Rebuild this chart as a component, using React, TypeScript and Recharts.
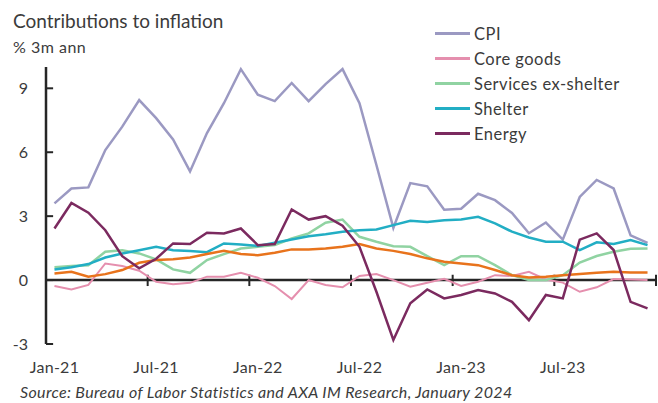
import { LineChart, Line, XAxis, YAxis, ReferenceLine, Legend } from 'recharts';

const months = [
  'Jan-21', 'Feb-21', 'Mar-21', 'Apr-21', 'May-21', 'Jun-21', 'Jul-21', 'Aug-21', 'Sep-21', 'Oct-21', 'Nov-21', 'Dec-21',
  'Jan-22', 'Feb-22', 'Mar-22', 'Apr-22', 'May-22', 'Jun-22', 'Jul-22', 'Aug-22', 'Sep-22', 'Oct-22', 'Nov-22', 'Dec-22',
  'Jan-23', 'Feb-23', 'Mar-23', 'Apr-23', 'May-23', 'Jun-23', 'Jul-23', 'Aug-23', 'Sep-23', 'Oct-23', 'Nov-23', 'Dec-23',
];

const cpi = [
  3.6, 4.3, 4.35, 6.1, 7.2, 8.45, 7.6, 6.6, 5.1, 6.9, 8.3, 9.9,
  8.7, 8.4, 9.25, 8.4, 9.2, 9.9, 8.3, 5.4, 2.45, 4.55, 4.4, 3.3,
  3.35, 4.05, 3.75, 3.15, 2.2, 2.7, 1.9, 3.9, 4.7, 4.3, 2.1, 1.75,
];
const coreGoods = [
  -0.28, -0.44, -0.23, 0.78, 0.66, 0.44, -0.08, -0.19, -0.13, 0.16, 0.16, 0.34,
  0.11, -0.28, -0.89, 0.0, -0.23, -0.34, 0.19, 0.28, 0.0, -0.31, -0.13, 0.06,
  -0.28, -0.08, 0.23, 0.19, 0.39, 0.03, -0.12, -0.55, -0.34, 0.05, 0.03, 0.0,
];
const servicesExShelter = [
  0.6, 0.66, 0.7, 1.33, 1.4, 1.25, 0.97, 0.5, 0.34, 0.94, 1.22, 1.48,
  1.56, 1.64, 1.95, 2.19, 2.69, 2.84, 2.03, 1.8, 1.59, 1.56, 1.12, 0.7,
  1.12, 1.12, 0.7, 0.23, 0.0, 0.0, 0.23, 0.82, 1.13, 1.33, 1.47, 1.48,
];
const shelter = [
  0.5, 0.6, 0.75, 1.06, 1.25, 1.4, 1.56, 1.4, 1.37, 1.31, 1.72, 1.67,
  1.6, 1.75, 1.9, 2.06, 2.15, 2.27, 2.34, 2.37, 2.58, 2.78, 2.73, 2.81,
  2.84, 2.97, 2.66, 2.27, 2.0, 1.8, 1.8, 1.41, 1.77, 1.69, 1.88, 1.64,
];
const energy = [
  2.42, 3.62, 3.16, 2.34, 1.12, 0.55, 1.0, 1.72, 1.69, 2.22, 2.19, 2.42,
  1.64, 1.69, 3.31, 2.84, 3.0, 2.55, 1.56, -0.55, -2.81, -1.09, -0.44, -0.86,
  -0.7, -0.47, -0.63, -1.02, -1.88, -0.7, -0.86, 1.9, 2.19, 1.41, -1.02, -1.33,
];
const other = [
  0.31, 0.39, 0.16, 0.28, 0.47, 0.81, 0.94, 0.98, 1.06, 1.22, 1.37, 1.22,
  1.17, 1.28, 1.44, 1.44, 1.48, 1.56, 1.69, 1.48, 1.37, 1.22, 1.02, 0.86,
  0.78, 0.7, 0.47, 0.23, 0.12, 0.16, 0.23, 0.28, 0.34, 0.39, 0.36, 0.36,
];

const legendNames = ['CPI', 'Core goods', 'Services ex-shelter', 'Shelter', 'Energy'];
const xTicks = [0, 6, 12, 18, 24, 30];
const yTicks = [-3, 0, 3, 6, 9];
const xTickMarks = [5.5, 11.5, 17.5, 23.5, 29.5, 35.5];

const data = months.map((m, i) => ({
  idx: i,
  month: m,
  cpi: cpi[i],
  coreGoods: coreGoods[i],
  services: servicesExShelter[i],
  shelter: shelter[i],
  energy: energy[i],
  other: other[i],
}));

const FONT = 'Lato, "Open Sans", sans-serif';
const TEXT = '#3b3b3b';
const AXIS = '#262626';

function LegendBox({ payload }: any) {
  const items = (payload || [])
    .filter((p: any) => legendNames.includes(p.value))
    .sort((a: any, b: any) => legendNames.indexOf(a.value) - legendNames.indexOf(b.value));
  return (
    <div style={{ fontFamily: FONT, fontSize: 16.5, letterSpacing: 0.5, color: TEXT }}>
      {items.map((p: any) => (
        <div key={p.value} style={{ display: 'flex', alignItems: 'center', height: 25 }}>
          <span style={{ display: 'inline-block', width: 35, height: 2.5, background: p.color, marginRight: 4 }} />
          <span>{p.value}</span>
        </div>
      ))}
    </div>
  );
}

export default function App() {
  return (
    <div style={{ position: 'absolute', left: 0, top: 0, width: 658, height: 403, background: '#fff', fontFamily: FONT }}>
      <div style={{ position: 'absolute', left: 13, top: 11, fontSize: 19, lineHeight: 1, color: TEXT, whiteSpace: 'nowrap' }}>
        Contributions to inflation
      </div>
      <div style={{ position: 'absolute', left: 13, top: 39, fontSize: 16, letterSpacing: 0.5, lineHeight: 1, color: TEXT, whiteSpace: 'nowrap' }}>
        % 3m ann
      </div>
      <LineChart width={658} height={403} data={data} margin={{ top: 67, right: 2, bottom: 29, left: 0 }}>
        <XAxis
          dataKey="idx"
          type="number"
          domain={[-0.5, 35.5]}
          ticks={xTicks}
          tickFormatter={(v: number) => months[v]}
          axisLine={false}
          tickLine={false}
          tickSize={0}
          tickMargin={18}
          height={30}
          tick={{ fill: TEXT, fontSize: 16, fontFamily: FONT, letterSpacing: 0.3 }}
        />
        <YAxis
          domain={[-3, 10]}
          ticks={yTicks}
          width={46}
          axisLine={{ stroke: AXIS, strokeWidth: 2.5 }}
          tickLine={false}
          tickSize={0}
          tickMargin={18}
          tick={{ fill: TEXT, fontSize: 16, fontFamily: FONT }}
        />
        <ReferenceLine y={0} stroke={AXIS} strokeWidth={2.5} />
        {xTickMarks.map((t) => (
          <ReferenceLine key={'x' + t} segment={[{ x: t, y: -0.28 }, { x: t, y: 0.25 }]} stroke={AXIS} strokeWidth={2} />
        ))}
        {yTicks.map((t) => (
          <ReferenceLine key={'y' + t} segment={[{ x: -0.5, y: t }, { x: -0.08, y: t }]} stroke={AXIS} strokeWidth={2} />
        ))}
        <Legend
          layout="vertical"
          verticalAlign="middle"
          align="center"
          content={<LegendBox />}
          wrapperStyle={{ position: 'absolute', left: 435, top: 21, width: 220 }}
        />
        <Line dataKey="cpi" name="CPI" stroke="#9b99c2" strokeWidth={2.5} dot={false} isAnimationActive={false} />
        <Line dataKey="coreGoods" name="Core goods" stroke="#e58fae" strokeWidth={2} dot={false} isAnimationActive={false} />
        <Line dataKey="services" name="Services ex-shelter" stroke="#90d3a2" strokeWidth={2.5} dot={false} isAnimationActive={false} />
        <Line dataKey="shelter" name="Shelter" stroke="#22aec4" strokeWidth={2.5} dot={false} isAnimationActive={false} />
        <Line dataKey="other" name="Other" legendType="none" stroke="#e8731c" strokeWidth={2.5} dot={false} isAnimationActive={false} />
        <Line dataKey="energy" name="Energy" stroke="#7b2a5f" strokeWidth={2.5} dot={false} isAnimationActive={false} />
      </LineChart>
      <div style={{ position: 'absolute', left: 20, top: 384, fontSize: 16, letterSpacing: 0.35, lineHeight: 1, fontStyle: 'italic', color: TEXT, whiteSpace: 'nowrap' }}>
        Source: Bureau of Labor Statistics and AXA IM Research, January 2024
      </div>
    </div>
  );
}
